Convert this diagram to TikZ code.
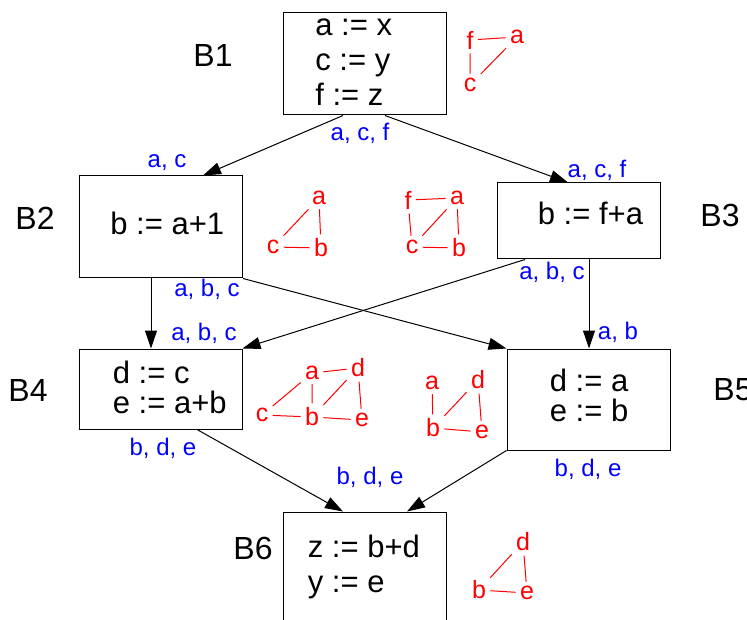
\documentclass[tikz,border=0pt]{standalone}
\usepackage{fontspec}
\setmainfont{Liberation Sans}
\usetikzlibrary{positioning,arrows.meta,calc}

\begin{document}
\begin{tikzpicture}[
  x=0.5pt,y=-0.5pt,
  bb/.style={rectangle,draw=black,line width=0.5pt,inner sep=0pt,minimum width=81.5pt},
  code/.style={inner sep=0pt,align=left,font=\fontsize{15.5}{17.5}\selectfont},
  blab/.style={font=\fontsize{16}{19}\selectfont},
  live/.style={text=blue,inner sep=0pt,font=\fontsize{12}{14}\selectfont},
  var/.style={text=red,inner sep=2pt,font=\fontsize{12.5}{15}\selectfont},
  ig/.style={red,line width=0.5pt},
  arr/.style={-{Triangle[length=9pt,width=6pt]},line width=0.5pt,black}
]
\useasboundingbox (0,0) rectangle (747,619);

% basic blocks
\node[bb,minimum height=51pt] (b1) at (365,64) {};
\node[bb,minimum height=51pt] (b2) at (161,227) {};
\node[bb,minimum height=38pt] (b3) at (578.5,221) {};
\node[bb,minimum height=40pt] (b4) at (160.5,389) {};
\node[bb,minimum height=50.5pt] (b5) at (588.5,399.5) {};
\node[bb,minimum height=55pt] (b6) at (364.5,567) {};

\node[code,right=16pt of b1.west,yshift=1pt] (t1) {a := x\\ c := y\\ f := z};
\node[code,right=15.5pt of b2.west,yshift=2pt] (t2) {b := a+1};
\node[code,right=20.5pt of b3.west,yshift=4pt] (t3) {b := f+a};
\node[code,right=17pt of b4.west,yshift=1pt,font=\fontsize{15.5}{15}\selectfont] (t4) {d := c\\ e := a+b};
\node[code,right=21.5pt of b5.west,yshift=2pt,font=\fontsize{15.5}{15}\selectfont] (t5) {d := a\\ e := b};
\node[code,right=12.5pt of b6.west] (t6) {z := b+d\\ y := e};

\node[blab] (l1) at (213,55) {B1};
\node[blab] (l2) at (35,218) {B2};
\node[blab] (l3) at (720,215) {B3};
\node[blab] (l4) at (28,390) {B4};
\node[blab] (l5) at (733,390) {B5};
\node[blab] (l6) at (253,548) {B6};

% control flow
\draw[arr] ($(b1.south)+(-22,0)$) -- ($(b2.north)+(42,0)$);
\draw[arr] ($(b1.south)+(20,0)$) -- ($(b3.north)+(-10.5,0)$);
\draw[arr] ($(b2.south)+(-10,0)$) -- ($(b4.north)+(-9.5,0)$);
\draw[arr] (b2.south east) -- (b5.north west);
\draw[arr] ($(b3.south)+(-53.5,0)$) -- (b4.north east);
\draw[arr] ($(b3.south)+(10.5,0)$) -- ($(b5.north)+(0.5,0)$);
\draw[arr] ($(b4.south)+(36.5,0)$) -- ($(b6.north)+(-21.5,0)$);
\draw[arr] (b5.south west) -- ($(b6.north)+(42.5,0)$);

% live variables
\node[live] (o1) at (360,133) {a, c, f};
\node[live] (i2) at (167,163) {a, c};
\node[live] (i3) at (597,170) {a, c, f};
\node[live] (o2) at (207,289) {a, b, c};
\node[live] (o3) at (552,272) {a, b, c};
\node[live] (i4) at (204,333) {a, b, c};
\node[live] (i5) at (618,332) {a, b};
\node[live] (o4) at (163,448) {b, d, e};
\node[live] (i6) at (370,477) {b, d, e};
\node[live] (o5) at (588,469) {b, d, e};

% interference graphs
\node[var] (g1f) at (470,40) {f};
\node[var] (g1a) at (517,37) {a};
\node[var] (g1c) at (470,85) {c};
\draw[ig] (g1f) -- (g1a) (g1f) -- (g1c) (g1a) -- (g1c);

\node[var] (g2a) at (319,198) {a};
\node[var] (g2c) at (273,247) {c};
\node[var] (g2b) at (321,248) {b};
\draw[ig] (g2a) -- (g2c) (g2a) -- (g2b) (g2c) -- (g2b);

\node[var] (g3f) at (408,200) {f};
\node[var] (g3a) at (457,198) {a};
\node[var] (g3c) at (412,247) {c};
\node[var] (g3b) at (459,248) {b};
\draw[ig] (g3f) -- (g3a) (g3f) -- (g3c) (g3a) -- (g3c) (g3a) -- (g3b) (g3c) -- (g3b);

\node[var] (g4a) at (312,373) {a};
\node[var] (g4d) at (358,368) {d};
\node[var] (g4c) at (262,415) {c};
\node[var] (g4b) at (312,417) {b};
\node[var] (g4e) at (362,420) {e};
\draw[ig] (g4a) -- (g4d) (g4a) -- (g4c) (g4a) -- (g4b) (g4d) -- (g4b) (g4d) -- (g4e)
  (g4c) -- (g4b) (g4b) -- (g4e);

\node[var] (g5a) at (432,383) {a};
\node[var] (g5d) at (478,380) {d};
\node[var] (g5b) at (433,428) {b};
\node[var] (g5e) at (482,432) {e};
\draw[ig] (g5a) -- (g5b) (g5d) -- (g5b) (g5d) -- (g5e) (g5b) -- (g5e);

\node[var] (g6d) at (523,542) {d};
\node[var] (g6b) at (479,590) {b};
\node[var] (g6e) at (527,593) {e};
\draw[ig] (g6d) -- (g6b) (g6d) -- (g6e) (g6b) -- (g6e);
\end{tikzpicture}
\end{document}
